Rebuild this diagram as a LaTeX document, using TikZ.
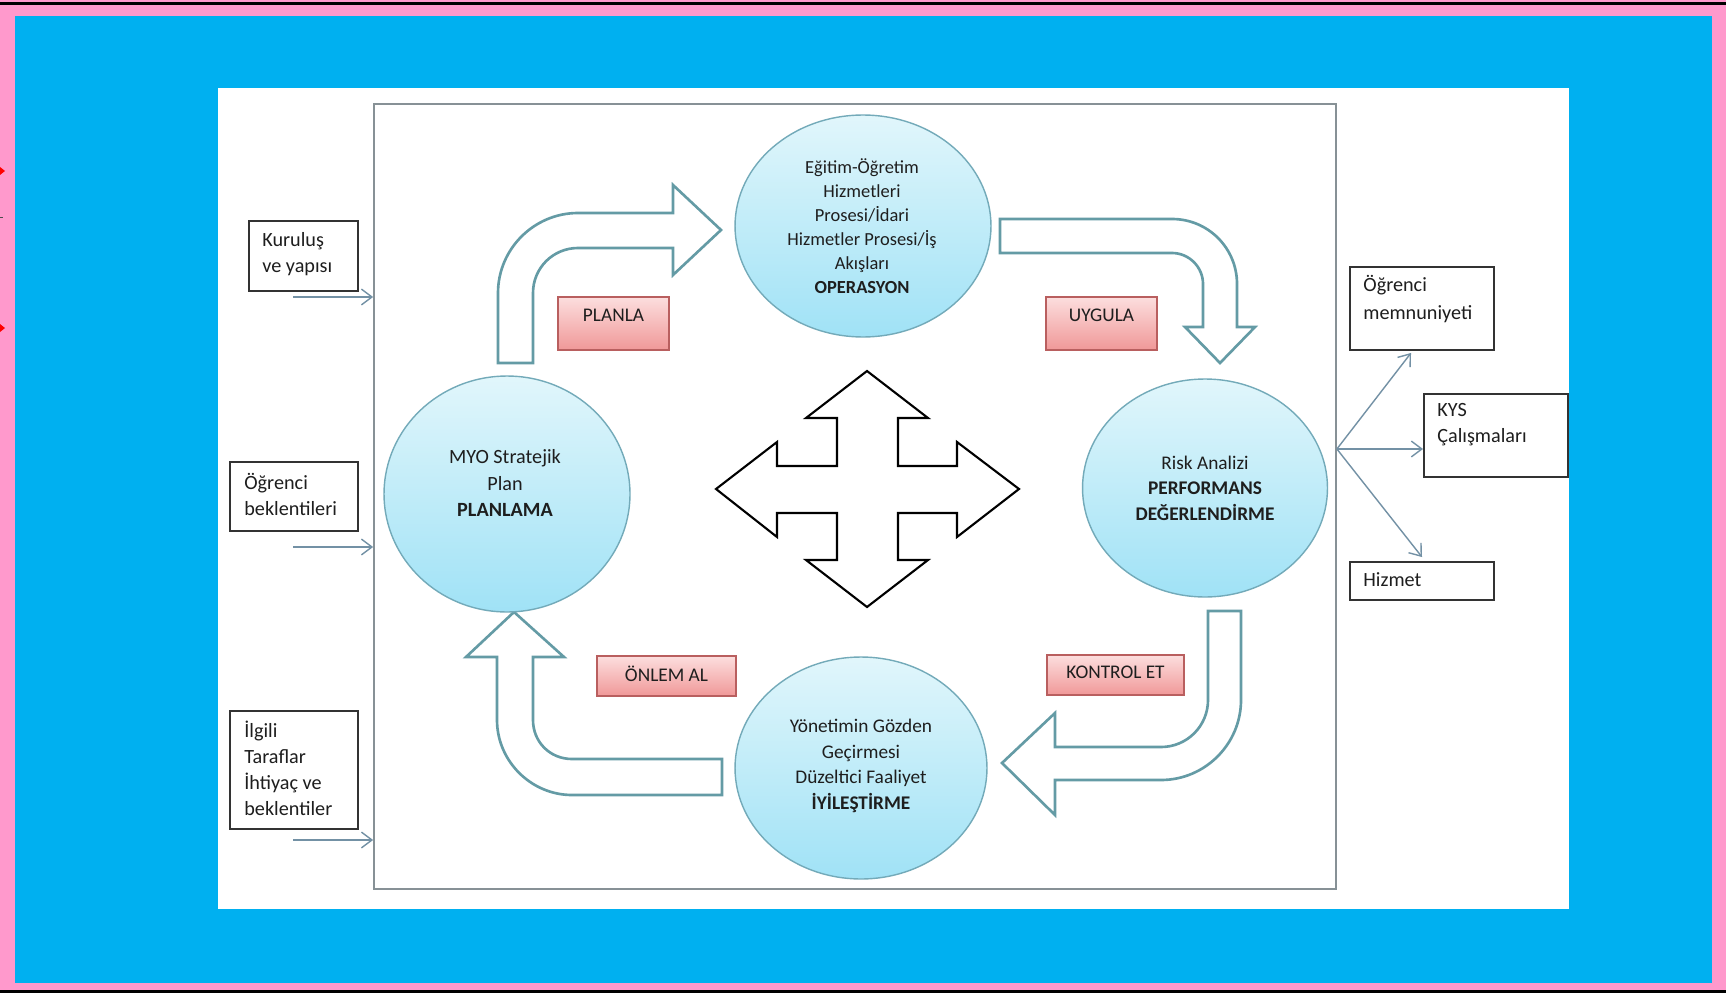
\documentclass[tikz,border=0pt]{standalone}
\usepackage{fontspec}
\setmainfont{Carlito}
\usetikzlibrary{shapes.geometric,arrows.meta,shadows}
\definecolor{pinkframe}{RGB}{255,153,204}
\definecolor{skyblue}{RGB}{0,176,240}
\definecolor{framegray}{RGB}{135,145,150}
\definecolor{arrowteal}{RGB}{100,155,165}
\definecolor{circtop}{RGB}{225,246,251}
\definecolor{circbot}{RGB}{160,226,246}
\definecolor{circline}{RGB}{115,170,185}
\definecolor{labtop}{RGB}{252,222,222}
\definecolor{labbot}{RGB}{240,152,152}
\definecolor{labline}{RGB}{185,95,95}
\definecolor{txt}{RGB}{30,30,30}
\definecolor{linkgray}{RGB}{115,145,165}
\tikzset{
 phase/.style={ellipse, draw=circline, line width=0.8pt, top color=circtop, bottom color=circbot, inner sep=0pt},
 phasetext/.style={align=center, text=txt, inner sep=0pt},
 labelbox/.style={rectangle, draw=labline, line width=0.7pt, top color=labtop, bottom color=labbot, drop shadow={shadow xshift=0.6pt, shadow yshift=-0.8pt, opacity=0.35}, inner sep=0pt},
 labeltext/.style={text=txt, inner sep=0pt, font=\fontsize{11}{13}\selectfont},
 sidebox/.style={rectangle, draw=black!80, line width=1.1pt, fill=white, inner sep=0pt},
 sidetext/.style={align=left, anchor=west, text=txt, inner sep=0pt, font=\fontsize{11.5}{14.8}\selectfont},
 blockarrow/.style={draw=arrowteal, line width=1.5pt, fill=white, line join=miter},
 crossarrow/.style={draw=black, line width=1.2pt, fill=white, line join=miter},
 link/.style={draw=linkgray, line width=0.8pt, -{Straight Barb[length=6pt,width=9pt]}},
}
\begin{document}
\begin{tikzpicture}[x=0.02cm,y=-0.02cm]
\useasboundingbox (0,0) rectangle (1726,993);
% background frame
\fill[pinkframe] (0,0) rectangle (1726,993);
\fill[skyblue] (15,16) rectangle (1712,983);
\fill[white] (218,88) rectangle (1569,909);
\draw[black, line width=1.2pt] (0,3.5) -- (1726,3.5);
\draw[black, line width=1.2pt] (0,991.5) -- (1726,991.5);
\fill[red] (0,167) -- (5,171) -- (0,175) -- cycle;
\fill[red] (0,324) -- (5,328) -- (0,332) -- cycle;
\draw[black!70, line width=0.5pt] (0,217) -- (3,217);

% main frame
\node[rectangle, draw=framegray, line width=1.1pt, minimum width=19.24cm, minimum height=15.7cm, inner sep=0pt] (frame) at (855,496.5) {};

% block arrows
\draw[blockarrow] (498,363) -- (498,293) .. controls (498,249) and (534,213) .. (578,213) -- (673,213) -- (673,185) -- (721,230) -- (673,275) -- (673,248) -- (578,248) .. controls (553,248) and (533,268) .. (533,293) -- (533,363) -- cycle;
\draw[blockarrow] (1000,219) -- (1172,219) .. controls (1208,219) and (1237,248) .. (1237,284) -- (1237,327) -- (1255,327) -- (1220,363) -- (1185,327) -- (1203,327) -- (1203,284) .. controls (1203,267) and (1189,253) .. (1172,253) -- (1000,253) -- cycle;
\draw[blockarrow] (1208,611) -- (1241,611) -- (1241,700) .. controls (1241,744) and (1205,780) .. (1161,780) -- (1055,780) -- (1055,815) -- (1002,763) -- (1055,713) -- (1055,747) -- (1161,747) .. controls (1187,747) and (1208,726) .. (1208,700) -- cycle;
\draw[blockarrow] (722,759) -- (722,795) -- (572,795) .. controls (531,795) and (497,761) .. (497,720) -- (497,657) -- (466,657) -- (514,612) -- (564,657) -- (533,657) -- (533,720) .. controls (533,742) and (550,759) .. (572,759) -- cycle;

% centre cross arrow
\draw[crossarrow] (867,371) -- (928,418) -- (898,418) -- (898,466) -- (957,466) -- (957,442) -- (1019,489) -- (957,537) -- (957,513) -- (898,513) -- (898,560) -- (928,560) -- (867,607) -- (806,560) -- (837,560) -- (837,513) -- (777,513) -- (777,537) -- (716,489) -- (777,442) -- (777,466) -- (837,466) -- (837,418) -- (806,418) -- cycle;

% phase circles
\node[phase, minimum width=5.12cm, minimum height=4.44cm] (op) at (863,226) {};
\node[phase, minimum width=4.92cm, minimum height=4.72cm] (plan) at (507,494) {};
\node[phase, minimum width=4.9cm, minimum height=4.36cm] (perf) at (1205,488) {};
\node[phase, minimum width=5.04cm, minimum height=4.44cm] (iyi) at (861,768) {};

\node[phasetext, font=\fontsize{10.5}{13.7}\selectfont] (opT) at (862,226) {Eğitim-Öğretim\\Hizmetleri\\Prosesi/İdari\\Hizmetler Prosesi/İş\\Akışları\\\textbf{OPERASYON}};
\node[phasetext, font=\fontsize{11.5}{15}\selectfont] (planT) at (505,483) {MYO Stratejik\\Plan\\\textbf{PLANLAMA}};
\node[phasetext, font=\fontsize{11}{14.5}\selectfont] (perfT) at (1205,488) {Risk Analizi\\\textbf{PERFORMANS}\\\textbf{DEĞERLENDİRME}};
\node[phasetext, font=\fontsize{11}{14.6}\selectfont] (iyiT) at (861,766) {Yönetimin Gözden\\Geçirmesi\\Düzeltici Faaliyet\\\textbf{İYİLEŞTİRME}};

% PDCA labels
\node[labelbox, minimum width=2.22cm, minimum height=1.06cm] (lPlan) at (613.5,323.5) {};
\node[labeltext] (lPlanT) at (613.5,315) {PLANLA};
\node[labelbox, minimum width=2.22cm, minimum height=1.06cm] (lUyg) at (1101.5,323.5) {};
\node[labeltext] (lUygT) at (1101.5,315) {UYGULA};
\node[labelbox, minimum width=2.78cm, minimum height=0.8cm] (lOnl) at (666.5,676) {};
\node[labeltext] (lOnlT) at (666.5,674) {ÖNLEM AL};
\node[labelbox, minimum width=2.74cm, minimum height=0.8cm] (lKon) at (1115.5,675) {};
\node[labeltext] (lKonT) at (1115.5,672) {KONTROL ET};

% input boxes
\node[sidebox, minimum width=2.18cm, minimum height=1.4cm] (kur) at (303.5,256) {};
\node[sidetext] (kurT) at (262,254) {Kuruluş\\ve yapısı};
\node[sidebox, minimum width=2.56cm, minimum height=1.38cm] (bek) at (294,496.5) {};
\node[sidetext] (bekT) at (244,494) {Öğrenci\\beklentileri};
\node[sidebox, minimum width=2.56cm, minimum height=2.36cm] (ilg) at (294,770) {};
\node[sidetext] (ilgT) at (244,768) {İlgili\\Taraflar\\İhtiyaç ve\\beklentiler};

% output boxes
\node[sidebox, minimum width=2.88cm, minimum height=1.66cm] (memn) at (1422,308.5) {};
\node[sidetext, font=\fontsize{11.5}{15.8}\selectfont] (memnT) at (1363,299) {Öğrenci\\memnuniyeti};
\node[sidebox, minimum width=2.88cm, minimum height=1.66cm] (kys) at (1496,435.5) {};
\node[sidetext] (kysT) at (1437,425) {KYS\\Çalışmaları};
\node[sidebox, minimum width=2.88cm, minimum height=0.76cm] (hiz) at (1422,581) {};
\node[sidetext] (hizT) at (1363,580) {Hizmet};

% input connectors
\coordinate (in1) at (293,297);
\coordinate (in2) at (293,547);
\coordinate (in3) at (293,840);
\draw[link] (in1) -- (in1 -| frame.west);
\draw[link] (in2) -- (in2 -| frame.west);
\draw[link] (in3) -- (in3 -| frame.west);

% output connectors
\coordinate (hubY) at (0,449);
\coordinate (hub) at (hubY -| frame.east);
\draw[link] (hub) -- ([xshift=-0.22cm, yshift=-0.04cm]memn.south);
\draw[link] (hub) -- (hub -| kys.west);
\draw[link] (hub) -- ([yshift=0.08cm]hiz.north);
\end{tikzpicture}
\end{document}
